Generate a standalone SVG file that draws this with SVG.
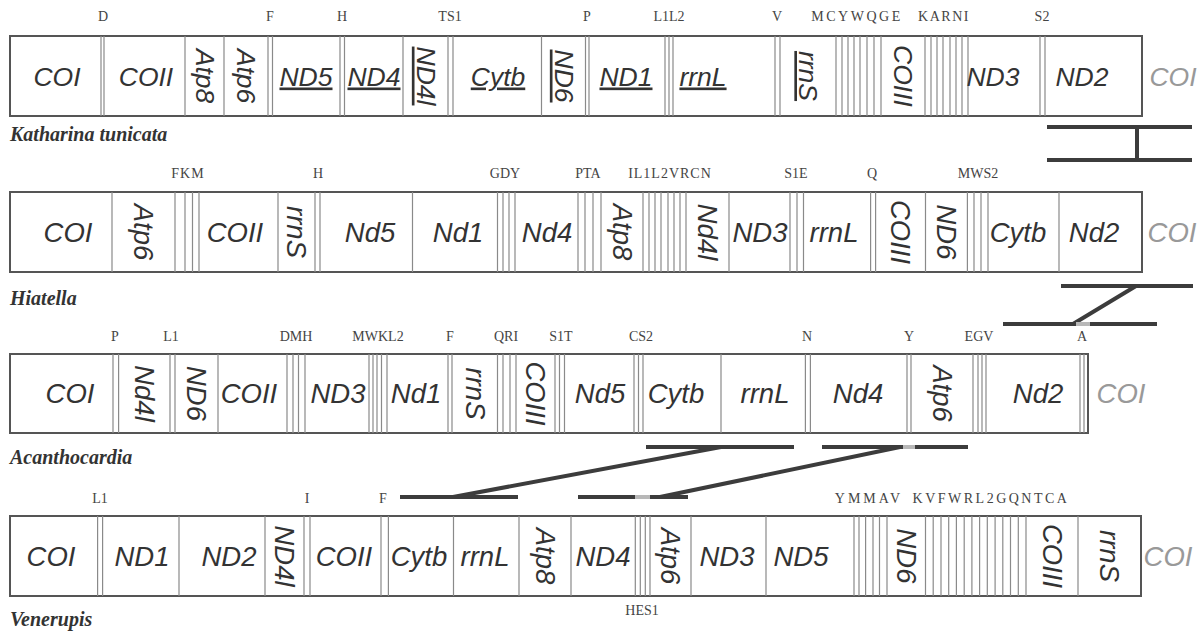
<svg xmlns="http://www.w3.org/2000/svg" width="1202" height="632" viewBox="0 0 1202 632">
<style>
.box{fill:#fff;stroke:#555;stroke-width:2}
.tl{stroke:#8a8a8a;stroke-width:1.2;fill:none}
.g{font-family:"Liberation Sans",Arial,sans-serif;font-style:italic;font-size:27.5px;fill:#333;text-anchor:middle}
.g1{font-size:26.5px}
.u{text-decoration:underline}
.grey{fill:#999}
.t{font-family:"Liberation Serif","Times New Roman",serif;font-size:14px;fill:#444;text-anchor:middle}
.sp{font-family:"Liberation Serif","Times New Roman",serif;font-weight:bold;font-style:italic;font-size:20px;fill:#333}
.cn{stroke:#3c3c3c;stroke-width:4;fill:none}
.cg{stroke:#b8b8b8;stroke-width:4;fill:none}
</style>
<rect width="1202" height="632" fill="#fff"/>

<g id="katharina">
<rect class="box" x="10" y="36" width="1132" height="80"/>
<path class="tl" d="M101 36V116M104 36V116M185 36V116M224 36V116M268 36V116M272.5 36V116M340 36V116M344.5 36V116M403 36V116M448 36V116M453 36V116M541.5 36V116M585.5 36V116M589 36V116M665 36V116M669 36V116M673 36V116M775 36V116M780 36V116M836 36V116M842 36V116M848 36V116M854 36V116M860 36V116M867 36V116M874 36V116M881 36V116M925 36V116M931 36V116M937 36V116M943 36V116M950 36V116M956 36V116M962 36V116M968 36V116M1040 36V116M1045 36V116"/>
<g class="g g1">
<text x="57" y="85.5">COI</text>
<text x="146" y="85.5">COII</text>
<text transform="translate(204.5,76) rotate(90)" y="9">Atp8</text>
<text transform="translate(246,76) rotate(90)" y="9">Atp6</text>
<text class="u" x="306" y="85.5">ND5</text>
<text class="u" x="374" y="85.5">ND4</text>
<text class="u" transform="translate(425.5,76) rotate(90)" y="9">ND4l</text>
<text class="u" x="498" y="85.5">Cytb</text>
<text class="u" transform="translate(563.5,76) rotate(90)" y="9">ND6</text>
<text class="u" x="626" y="85.5">ND1</text>
<text class="u" x="703" y="85.5">rrnL</text>
<text class="u" transform="translate(808,76) rotate(90)" y="9">rrnS</text>
<text transform="translate(903,76) rotate(90)" y="9">COIII</text>
<text x="993" y="85.5">ND3</text>
<text x="1082" y="85.5">ND2</text>
<text class="grey" x="1173" y="85.5">COI</text>
</g>
<g class="t">
<text x="103" y="21">D</text>
<text x="270" y="21">F</text>
<text x="342" y="21">H</text>
<text x="450" y="21">TS1</text>
<text x="587" y="21">P</text>
<text x="669" y="21">L1L2</text>
<text x="777" y="21">V</text>
<text x="857" y="21" letter-spacing="2.5">MCYWQGE</text>
<text x="944" y="21" letter-spacing="1.5">KARNI</text>
<text x="1042" y="21">S2</text>
</g>
<text class="sp" x="10" y="141">Katharina tunicata</text>
</g>

<g id="hiatella">
<rect class="box" x="10" y="192" width="1132" height="80"/>
<path class="tl" d="M112 192V272M175 192V272M185 192V272M192.5 192V272M199 192V272M278 192V272M315 192V272M320 192V272M412.5 192V272M497.5 192V272M503 192V272M509 192V272M515 192V272M578 192V272M585 192V272M593 192V272M601 192V272M643 192V272M649 192V272M655 192V272M661 192V272M668 192V272M674 192V272M680 192V272M686 192V272M729 192V272M790 192V272M797 192V272M803.5 192V272M870.6 192V272M875.6 192V272M925.5 192V272M967.4 192V272M974 192V272M981 192V272M988 192V272M1059 192V272"/>
<g class="g">
<text x="68" y="241.5">COI</text>
<text transform="translate(143.5,232) rotate(90)" y="9.5">Atp6</text>
<text x="235" y="241.5">COII</text>
<text transform="translate(296.5,232) rotate(90)" y="9.5">rrnS</text>
<text x="370" y="241.5">Nd5</text>
<text x="458" y="241.5">Nd1</text>
<text x="547" y="241.5">Nd4</text>
<text transform="translate(622,232) rotate(90)" y="9.5">Atp8</text>
<text transform="translate(707.5,232) rotate(90)" y="9.5">Nd4l</text>
<text x="760" y="241.5">ND3</text>
<text x="834" y="241.5">rrnL</text>
<text transform="translate(900.5,232) rotate(90)" y="9.5">COIII</text>
<text transform="translate(946.5,232) rotate(90)" y="9.5">ND6</text>
<text x="1018" y="241.5">Cytb</text>
<text x="1094" y="241.5">Nd2</text>
<text class="grey" x="1172" y="241.5">COI</text>
</g>
<g class="t">
<text x="188" y="178" letter-spacing="1">FKM</text>
<text x="318" y="178">H</text>
<text x="505" y="178">GDY</text>
<text x="588" y="178">PTA</text>
<text x="670" y="178" letter-spacing="1">IL1L2VRCN</text>
<text x="796" y="178">S1E</text>
<text x="872" y="178">Q</text>
<text x="978" y="178">MWS2</text>
</g>
<text class="sp" x="10" y="305">Hiatella</text>
</g>

<g id="acanthocardia">
<rect class="box" x="10" y="354" width="1078" height="79"/>
<path class="tl" d="M113 354V433M118.6 354V433M170 354V433M175 354V433M218 354V433M287 354V433M293 354V433M298.5 354V433M305 354V433M369 354V433M373 354V433M377 354V433M381.5 354V433M387 354V433M448 354V433M452 354V433M497.5 354V433M503 354V433M510 354V433M516 354V433M555 354V433M559.5 354V433M564.5 354V433M634 354V433M638.5 354V433M643 354V433M721 354V433M805.4 354V433M810.4 354V433M907 354V433M911 354V433M973 354V433M978 354V433M982 354V433M986 354V433M1080 354V433M1084 354V433"/>
<g class="g">
<text x="70" y="403">COI</text>
<text transform="translate(144,393.5) rotate(90)" y="9.5">Nd4l</text>
<text transform="translate(196.5,393.5) rotate(90)" y="9.5">ND6</text>
<text x="249" y="403">COII</text>
<text x="338" y="403">ND3</text>
<text x="416" y="403">Nd1</text>
<text transform="translate(475,393.5) rotate(90)" y="9.5">rrnS</text>
<text transform="translate(535.5,393.5) rotate(90)" y="9.5">COIII</text>
<text x="600" y="403">Nd5</text>
<text x="676" y="403">Cytb</text>
<text x="765" y="403">rrnL</text>
<text x="858" y="403">Nd4</text>
<text transform="translate(942,393.5) rotate(90)" y="9.5">Atp6</text>
<text x="1038" y="403">Nd2</text>
<text class="grey" x="1121" y="403">COI</text>
</g>
<g class="t">
<text x="115" y="341">P</text>
<text x="171" y="341">L1</text>
<text x="296" y="341">DMH</text>
<text x="378" y="341">MWKL2</text>
<text x="450" y="341">F</text>
<text x="506" y="341">QRI</text>
<text x="561" y="341">S1T</text>
<text x="641" y="341">CS2</text>
<text x="807" y="341">N</text>
<text x="909" y="341">Y</text>
<text x="979" y="341">EGV</text>
<text x="1082" y="341">A</text>
</g>
<text class="sp" x="10" y="464">Acanthocardia</text>
</g>

<g id="venerupis">
<rect class="box" x="10" y="516" width="1131" height="80"/>
<path class="tl" d="M97.6 516V596M102.6 516V596M179 516V596M265 516V596M304 516V596M310 516V596M381 516V596M388.4 516V596M453.5 516V596M519 516V596M571 516V596M635.3 516V596M640.3 516V596M645.3 516V596M650 516V596M691 516V596M766 516V596M854 516V596M859 516V596M865.6 516V596M873 516V596M879.5 516V596M887 516V596M925.5 516V596M933.2 516V596M941 516V596M948.7 516V596M956.4 516V596M964.2 516V596M971.9 516V596M979.6 516V596M987.3 516V596M995.1 516V596M1002.8 516V596M1010.5 516V596M1018.3 516V596M1026 516V596M1078 516V596"/>
<g class="g">
<text x="51" y="565.5">COI</text>
<text x="142" y="565.5">ND1</text>
<text x="229" y="565.5">ND2</text>
<text transform="translate(284.5,556) rotate(90)" y="9.5">ND4l</text>
<text x="344" y="565.5">COII</text>
<text x="419" y="565.5">Cytb</text>
<text x="485" y="565.5">rrnL</text>
<text transform="translate(545,556) rotate(90)" y="9.5">Atp8</text>
<text x="603" y="565.5">ND4</text>
<text transform="translate(670.5,556) rotate(90)" y="9.5">Atp6</text>
<text x="727" y="565.5">ND3</text>
<text x="801" y="565.5">ND5</text>
<text transform="translate(906,556) rotate(90)" y="9.5">ND6</text>
<text transform="translate(1052,556) rotate(90)" y="9.5">COIII</text>
<text transform="translate(1109.5,556) rotate(90)" y="9.5">rrnS</text>
<text class="grey" x="1168" y="565.5">COI</text>
</g>
<g class="t">
<text x="100" y="503">L1</text>
<text x="307" y="503">I</text>
<text x="383" y="503">F</text>
<text x="869" y="503" letter-spacing="3">YMMAV</text>
<text x="991" y="503" letter-spacing="2.5">KVFWRL2GQNTCA</text>
<text x="642" y="615">HES1</text>
</g>
<text class="sp" x="10" y="626">Venerupis</text>
</g>

<g id="connectors">
<path class="cn" d="M1047 127H1192M1137 127V160M1047 160H1192"/>
<path class="cn" d="M1061 286H1193M1136 286L1073 324M1003 324H1157"/>
<path class="cg" d="M1076 324H1090"/>
<path class="cn" d="M646 447H794M721 447L453 497M400 497H518"/>
<path class="cn" d="M822 447H968M900 447L660 497M578 497H688"/>
<path class="cg" d="M903 447H915M635 497H650"/>
</g>
</svg>
